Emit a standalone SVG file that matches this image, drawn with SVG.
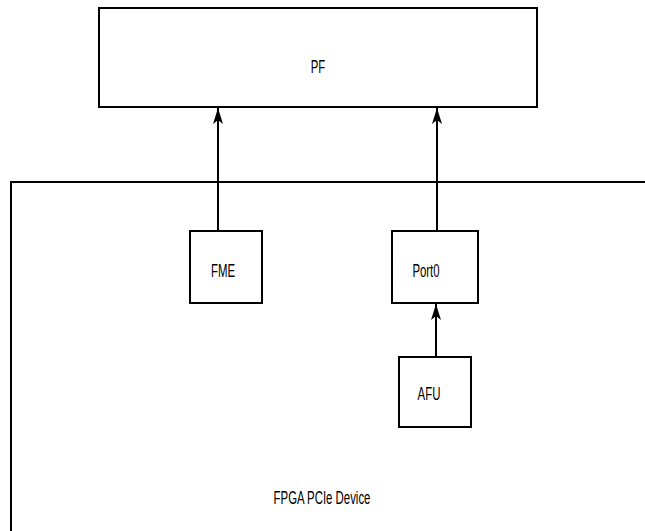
<svg xmlns="http://www.w3.org/2000/svg" width="645" height="531" viewBox="0 0 645 531">
<defs>
<style>
.box{fill:#fff;stroke:#000;stroke-width:2}
.ln{fill:none;stroke:#000;stroke-width:2}
.t{font-family:"Liberation Sans",Arial,sans-serif;font-size:19px;fill:#000;text-anchor:middle}
</style>
<marker id="ah" viewBox="0 0 16 11" refX="16" refY="5.5" markerWidth="16" markerHeight="11" markerUnits="userSpaceOnUse" orient="auto">
<path d="M16 5.5 L0 0.5 L4 5.5 L0 10.5 Z" fill="#000"/>
</marker>
</defs>
<rect width="645" height="531" fill="#fff"/>
<g id="device">
<path class="ln" d="M11 540 V182 H650"/>
<text class="t" transform="translate(322 504) scale(0.6 1)">FPGA PCIe Device</text>
</g>
<g id="pf">
<rect class="box" x="99" y="8" width="438" height="99"/>
<text class="t" transform="translate(318 73) scale(0.6 1)">PF</text>
</g>
<g id="fme">
<rect class="box" x="190" y="231" width="72" height="72"/>
<text class="t" transform="translate(223 277) scale(0.6 1)">FME</text>
</g>
<g id="port0">
<rect class="box" x="392" y="231" width="86" height="72"/>
<text class="t" transform="translate(426 277) scale(0.6 1)">Port0</text>
</g>
<g id="afu">
<rect class="box" x="399" y="357" width="72" height="70"/>
<text class="t" transform="translate(429 400) scale(0.6 1)">AFU</text>
</g>
<g id="connectors">
<path class="ln" d="M218 231 V108" marker-end="url(#ah)"/>
<path class="ln" d="M437 231 V108" marker-end="url(#ah)"/>
<path class="ln" d="M436 357 V304" marker-end="url(#ah)"/>
</g>
</svg>
